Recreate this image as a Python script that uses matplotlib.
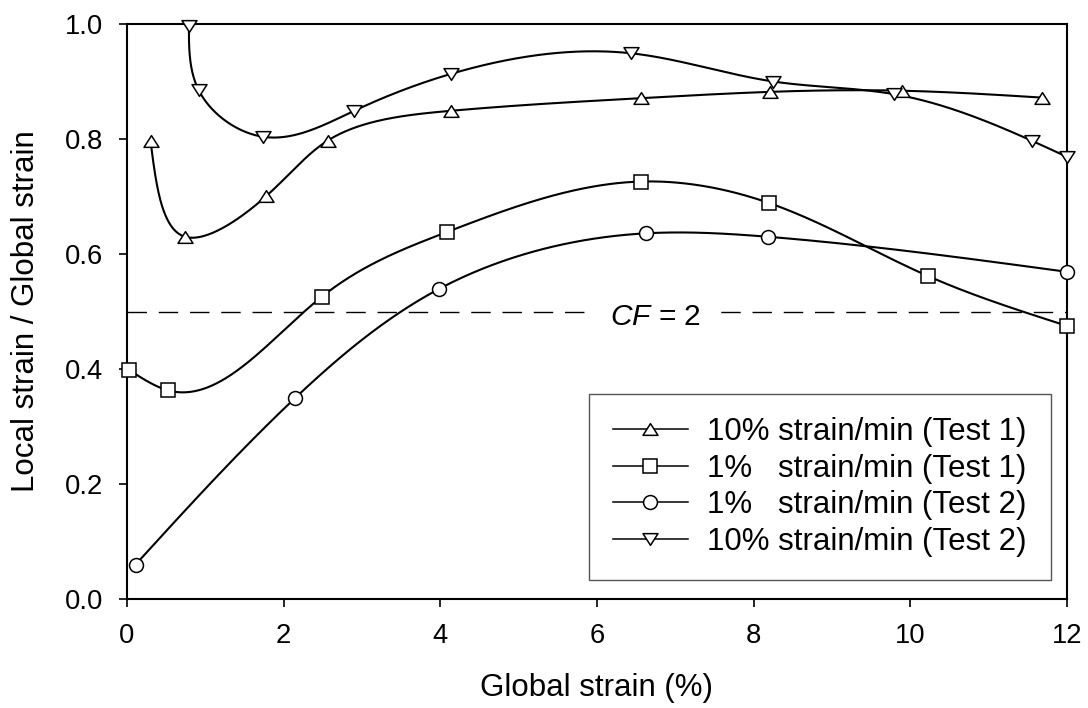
import numpy as np
import matplotlib
matplotlib.use("Agg")
import matplotlib.pyplot as plt
from matplotlib.path import Path
from matplotlib.patches import Rectangle
from matplotlib.lines import Line2D

plt.rcParams['font.family'] = ['Liberation Sans', 'DejaVu Sans']
plt.rcParams['mathtext.fontset'] = 'custom'
plt.rcParams['mathtext.rm'] = 'Liberation Sans'
plt.rcParams['mathtext.it'] = 'Liberation Sans:italic'

# ---- data: global strain (%) vs local/global strain ratio ----
t1_fast_x = [0.30, 0.74, 1.78, 2.56, 4.13, 6.56, 8.21, 9.89, 11.68]
t1_fast_y = [0.797, 0.630, 0.701, 0.797, 0.849, 0.871, 0.882, 0.884, 0.872]

t1_slow_x = [0.03, 0.52, 2.49, 4.08, 6.56, 8.19, 10.22, 12.0]
t1_slow_y = [0.398, 0.363, 0.526, 0.638, 0.726, 0.689, 0.562, 0.475]

t2_slow_x = [0.11, 2.15, 3.98, 6.63, 8.18, 12.0]
t2_slow_y = [0.060, 0.350, 0.539, 0.636, 0.630, 0.569]

t2_fast_x = [0.79, 0.915, 1.73, 2.90, 4.13, 6.44, 8.25, 9.79, 11.55, 12.0]
t2_fast_y = [0.997, 0.885, 0.804, 0.849, 0.913, 0.949, 0.900, 0.878, 0.797, 0.769]

labels = ["10% strain/min (Test 1)",
          "1%   strain/min (Test 1)",
          "1%   strain/min (Test 2)",
          "10% strain/min (Test 2)"]

cf_level = 0.5
cf_label = r"$\mathit{CF}$ = 2"

x_ticks = [0, 2, 4, 6, 8, 10, 12]
y_ticks = [0.0, 0.2, 0.4, 0.6, 0.8, 1.0]

# screen scale of one data unit (pixels), used to shape the smooth curves
PX_X, PX_Y = 940 / 12, 575 / 1.0


def _natural_coeffs(t, v):
    m = len(t)
    h = np.diff(t)
    A = np.zeros((m, m))
    b = np.zeros(m)
    A[0, 0] = A[-1, -1] = 1.0
    for i in range(1, m - 1):
        A[i, i - 1] = h[i - 1]
        A[i, i] = 2 * (h[i - 1] + h[i])
        A[i, i + 1] = h[i]
        b[i] = 6 * ((v[i + 1] - v[i]) / h[i] - (v[i] - v[i - 1]) / h[i - 1])
    return np.linalg.solve(A, b)


def _eval(t, v, M, ts):
    idx = np.clip(np.searchsorted(t, ts) - 1, 0, len(t) - 2)
    t0, t1 = t[idx], t[idx + 1]
    hh = t1 - t0
    a = t1 - ts
    c = ts - t0
    return (M[idx] * a ** 3 + M[idx + 1] * c ** 3) / (6 * hh) \
        + (v[idx] / hh - M[idx] * hh / 6) * a \
        + (v[idx + 1] / hh - M[idx + 1] * hh / 6) * c


def smooth_curve(x, y, n=600):
    """Parametric natural cubic spline through the points (chord-length in screen space)."""
    x = np.asarray(x, float)
    y = np.asarray(y, float)
    d = np.hypot(np.diff(x) * PX_X, np.diff(y) * PX_Y)
    t = np.concatenate([[0], np.cumsum(d)])
    ts = np.linspace(0, t[-1], n)
    xs = _eval(t, x, _natural_coeffs(t, x), ts)
    ys = _eval(t, y, _natural_coeffs(t, y), ts)
    return xs, ys


tri_up = Path([(0, 0.78), (-1, -0.78), (1, -0.78), (0, 0.78)],
              [Path.MOVETO, Path.LINETO, Path.LINETO, Path.CLOSEPOLY])
tri_dn = Path([(0, -0.78), (-1, 0.78), (1, 0.78), (0, -0.78)],
              [Path.MOVETO, Path.LINETO, Path.LINETO, Path.CLOSEPOLY])

series = [
    (t1_fast_x, t1_fast_y, tri_up, 10.8),
    (t1_slow_x, t1_slow_y, 's', 9.4),
    (t2_slow_x, t2_slow_y, 'o', 10.0),
    (t2_fast_x, t2_fast_y, tri_dn, 10.8),
]

fig = plt.figure(figsize=(10.88, 7.08), dpi=100)
ax = fig.add_axes([127 / 1088, 1 - 599 / 708, 940 / 1088, 575 / 708])

ax.axhline(cf_level, color='black', lw=1.0, dashes=(14, 8.5), zorder=2)
ax.text(6.75, cf_level - 0.023, cf_label, fontsize=21.5, ha='center', va='baseline',
        zorder=2.5, bbox=dict(boxstyle='square,pad=0.5', fc='white', ec='none'))

handles = []
for (xv, yv, mk, ms), lab in zip(series, labels):
    xs, ys = smooth_curve(xv, yv)
    ax.plot(xs, ys, color='black', lw=1.5, zorder=3, solid_capstyle='round')
    ax.plot(xv, yv, linestyle='none', marker=mk, ms=ms, mfc='white', mec='black',
            mew=1.1, zorder=5, clip_on=False)
    handles.append(Line2D([], [], color='black', lw=1.1, marker=mk, ms=ms,
                          mfc='white', mec='black', mew=1.1, label=lab))

ax.set_xlim(0, 12)
ax.set_ylim(0, 1.0)
ax.set_xticks(x_ticks)
ax.set_xticklabels([str(v) for v in x_ticks])
ax.set_yticks(y_ticks)
ax.set_yticklabels([f"{v:.1f}" for v in y_ticks])
ax.tick_params(direction='out', length=6, width=1.2, labelsize=19.7, pad=11,
               top=False, right=False)
for sp in ax.spines.values():
    sp.set_linewidth(1.5)
    sp.set_color('black')

ax.set_xlabel("Global strain (%)", fontsize=22.5)
ax.set_ylabel("Local strain / Global strain", fontsize=22.5)
ax.xaxis.set_label_coords(0.5, -0.128)
ax.yaxis.set_label_coords(-0.091, 0.5)

# legend box
bx0, by0, bx1, by1 = 0.491, 0.0336, 0.983, 0.3557
ax.add_patch(Rectangle((bx0, by0), bx1 - bx0, by1 - by0, transform=ax.transAxes,
                       fill=True, fc='white', ec='#555555', lw=1.0, zorder=6))
leg = ax.legend(handles=handles, loc='center',
                bbox_to_anchor=(bx0, by0, bx1 - bx0, by1 - by0),
                frameon=False, fontsize=22.5, handlelength=2.4,
                handletextpad=0.62, labelspacing=0.21, borderpad=0.2)
leg.set_zorder(7)

fig.savefig("out.png", dpi=100)
